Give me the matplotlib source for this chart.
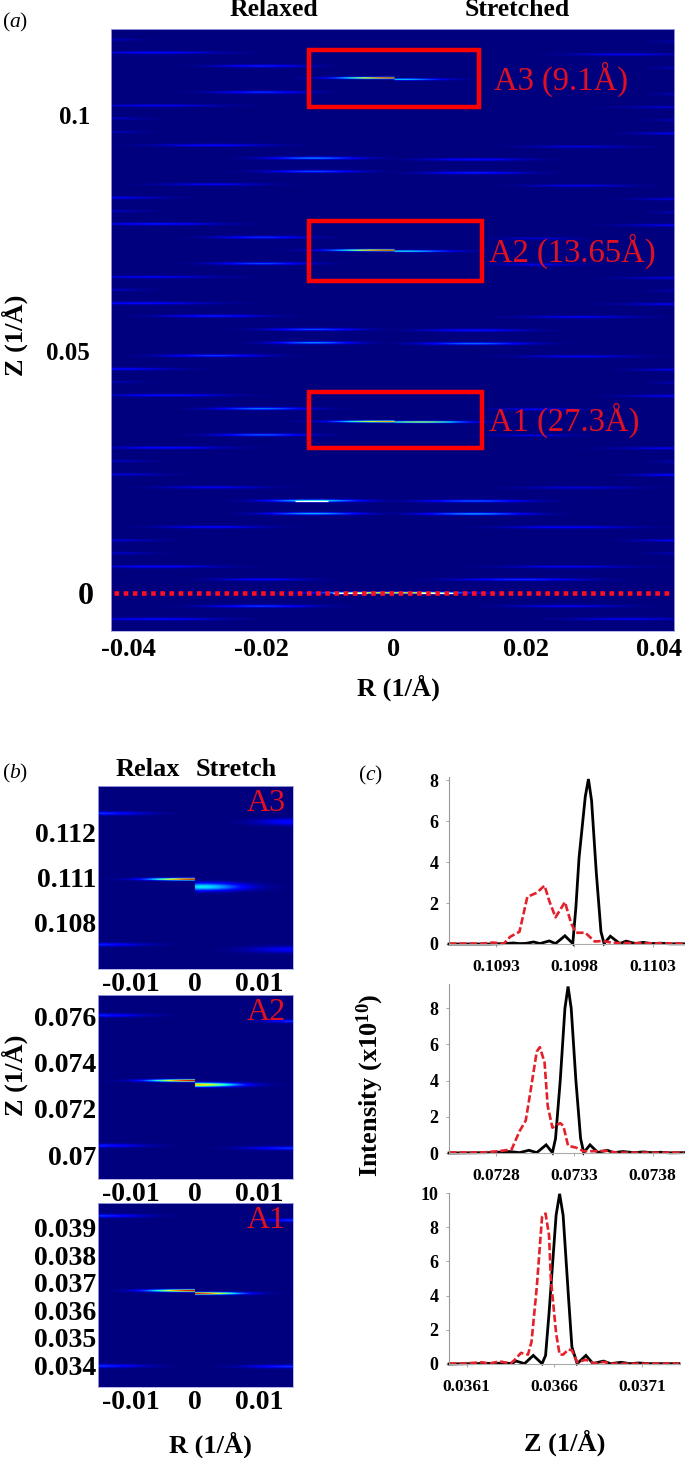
import numpy as np
import matplotlib
matplotlib.use("Agg")
import matplotlib.pyplot as plt
from matplotlib.patches import Rectangle
from matplotlib.transforms import ScaledTranslation

plt.rcParams['font.family'] = ['Liberation Serif', 'DejaVu Serif']
plt.rcParams['mathtext.fontset'] = 'custom'
plt.rcParams['mathtext.rm'] = 'Liberation Serif'
plt.rcParams['mathtext.it'] = 'Liberation Serif:italic'
plt.rcParams['mathtext.bf'] = 'Liberation Serif:bold'

W, H = 685, 1458

# ---------- panel (a) : streak rows ----------
row_z = [-.0055, -.0028, .0028, .0055, .0083, .0110, .0138, .0166, .0193, .0221,
         .0248, .0276, .0304, .0331, .0386, .0414, .0442, .0469, .0497, .0524,
         .0552, .0580, .0607, .0635, .0662, .0690, .0745, .0773, .0800, .0828,
         .0856, .0883, .0911, .0938, .0966, .0994, .1021, .1049, .1104, .1132, .1159]
left_r = [-.0358, -.0200, -.0200, -.0358, -.0425, -.0425, -.0273, -.0121, -.0121, -.0273,
          -.0425, -.0425, -.0341, -.0200, -.0200, -.0341, -.0425, -.0425, -.0273, -.0121,
          -.0121, -.0273, -.0386, -.0425, -.0369, -.0200, -.0200, -.0358, -.0425, -.0425,
          -.0273, -.0121, -.0121, -.0273, -.0425, -.0425, -.0358, -.0200, -.0200, -.0358, -.0425]
left_s = [.0065, .0055, .0048, .0065, .0042, .0048, .0054, .0048, .0048, .0054,
          .0054, .0042, .0060, .0048, .0048, .0060, .0030, .0060, .0054, .0042,
          .0048, .0054, .0072, .0036, .0072, .0048, .0048, .0066, .0036, .0054,
          .0054, .0048, .0048, .0060, .0036, .0036, .0066, .0048, .0048, .0066, .0030]
left_a = [.14, .19, .13, .13, .07, .08, .13, .32, .40, .11,
          .09, .06, .14, .23, .26, .15, .05, .14, .19, .28,
          .21, .16, .14, .06, .11, .21, .18, .15, .06, .11,
          .11, .21, .27, .13, .05, .06, .11, .18, .16, .13, .05]
right_r = [.0350, .0260, .0190, .0262, .0425, .0425, .0262, .0121, .0121, .0279,
           .0425, .0425, .0425, .0210, .0217, .0425, .0425, .0425, .0279, .0121,
           .0121, .0279, .0425, .0425, .0425, .0217, .0217, .0425, .0425, .0425,
           .0279, .0121, .0121, .0279, .0425, .0425, .0425, .0425, .0425, .0346, .0425]
right_s = [.0060, .0060, .0066, .0066, .0030, .0042, .0066, .0054, .0054, .0060,
           .0042, .0024, .0060, .0042, .0042, .0054, .0024, .0042, .0060, .0054,
           .0054, .0060, .0054, .0024, .0054, .0042, .0042, .0054, .0024, .0042,
           .0054, .0054, .0054, .0054, .0042, .0024, .0054, .0024, .0024, .0054, .0024]
right_a = [.11, .11, .18, .11, .05, .11, .13, .30, .23, .09,
           .14, .05, .11, .09, .11, .11, .05, .10, .11, .25,
           .15, .11, .11, .05, .09, .10, .07, .11, .05, .09,
           .10, .16, .14, .09, .11, .05, .08, .05, .05, .11, .04]

# central streaks of panel (a): z, side, sigma, amplitude
centre_z = [.1079, .1076, .0718, .0716, .0359, .0358, .0000, .0000]
centre_side = [-1, 1, -1, 1, -1, 1, -1, 1]
centre_r = [0, .0010, 0, .0010, -.0010, .0040, -.0020, .0020]
centre_s = [.0052, .0042, .0056, .0050, .0050, .0046, .0058, .0056]
centre_a = [1.0, .36, 1.0, .42, .78, .62, .70, .70]

# white cores seen in (a)
core_z = [.0193, .0000, .0000]
core_r0 = [-.0149, -.0092, .0040]
core_r1 = [-.0099, -.0040, .0090]

# red boxes of (a)
box_r0 = [-.0128, -.0128, -.0128]
box_r1 = [.0128, .0133, .0133]
box_z0 = [.1017, .0653, .0303]
box_z1 = [.1136, .0778, .0420]
box_text = ['A3 (9.1Å)', 'A2 (13.65Å)', 'A1 (27.3Å)']
box_text_dx = [.0023, .0010, .0010]
a_xticks = [-.04, -.02, 0, .02, .04]
a_xlabels = ['-0.04', '-0.02', '0', '0.02', '0.04']
a_yticks = [0, .0506, .1]
a_ylabels = ['0', '0.05', '0.1']

# ---------- panel (b) ----------
b_names = ['A3', 'A2', 'A1']
b_ylim = [(.10594, .11409), (.06896, .07694), (.0332, .0399)]
b_yticks = [[.108, .110, .112], [.070, .072, .074, .076], [.034, .035, .036, .037, .038, .039]]
b_ylabels = [['0.108', '0.111', '0.112'], ['0.07', '0.072', '0.074', '0.076'],
             ['0.034', '0.035', '0.036', '0.037', '0.038', '0.039']]
b_xticks = [-.01, 0, .01]
b_xlabels = ['-0.01', '0', '0.01']
# z, r centre, sigma r, sigma z, amplitude, side
b_z = [[.10994, .1096, .11288, .1125, .10702, .1068],
       [.07323, .07305, .07607, .07581, .0704, .07029],
       [.03671, .03661, .03944, .03928, .03396, .03394]]
b_r = [[0, .001, -.0153, .0153, -.0153, .0153],
       [0, .0, -.0153, .0153, -.0153, .0153],
       [0, .0, -.0153, .0153, -.0153, .0153]]
b_sr = [[.0045, .0045, .0050, .0040, .0050, .0050],
        [.0045, .0045, .0050, .0030, .0050, .0050],
        [.0045, .0045, .0050, .0030, .0050, .0050]]
b_sz = [[.000035, .00012, .00005, .00010, .00005, .00010],
        [.000035, .00006, .00005, .00004, .00005, .00005],
        [.000030, .00003, .00004, .00004, .00004, .00004]]
b_a = [[1.0, .36, .18, .13, .16, .11],
       [1.0, .72, .16, .18, .16, .18],
       [1.0, .95, .18, .18, .18, .18]]
b_side = [[-1, 1, 0, 0, 0, 0]] * 3

# ---------- panel (c) ----------
c_xticks = [[.1093, .1098, .1103], [.0728, .0733, .0738], [.0361, .0366, .0371]]
c_xlabels = [['0.1093', '0.1098', '0.1103'], ['0.0728', '0.0733', '0.0738'], ['0.0361', '0.0366', '0.0371']]
c_xlim = [(.10900, .11050), (.07250, .07400), (.03600, .03731)]
c_ylim = [8.15, 9.34, 10.0]
c_yticks = [[0, 2, 4, 6, 8], [0, 2, 4, 6, 8], [0, 2, 4, 6, 8, 10]]

black_z3 = [.10900, .10926, .10936, .10941, .10945, .10949, .10954, .10958, .10964, .10968, .10974, .10979,
            .10981, .10983, .10987, .10989, .10991, .10994, .10997, .10999, .11003, .11009, .11013, .11019,
            .11024, .11029, .11035, .11041, .11050]
black_i3 = [0, 0, .02, .05, .02, .03, .10, .02, .15, .02, .40, .02,
            1.8, 4.2, 7.2, 8.05, 7.0, 3.5, .6, .02, .38, .02, .14, .02,
            .08, .02, .04, .01, .01]
red_z3 = [.10900, .10921, .10928, .10935, .10939, .10945, .10950, .10956, .10961, .10964, .10968, .10974,
          .10978, .10981, .10987, .10993, .10998, .11005, .11013, .11022, .11050]
red_i3 = [.02, .02, .07, .02, .35, .60, 2.3, 2.5, 2.85, 2.1, 1.3, 2.05,
          1.0, .55, .55, .12, .15, .05, .05, .04, .02]

black_z2 = [.07250, .07276, .07289, .07295, .07301, .07306, .07312, .07316, .07318, .07321, .07324, .07326,
            .07328, .07331, .07334, .07336, .07340, .07345, .07351, .07355, .07361, .07368, .07374, .07379,
            .07385, .07391, .07400]
black_i2 = [0, .02, .08, .02, .15, .02, .45, .02, .8, 4.0, 8.0, 9.2,
            8.0, 4.0, .8, .02, .45, .03, .15, .02, .08, .02, .06, .02,
            .04, .01, .02]
red_z2 = [.07250, .07271, .07282, .07290, .07295, .07299, .07302, .07306, .07308, .07311, .07313, .07316,
          .07321, .07323, .07326, .07331, .07336, .07344, .07351, .07357, .07400]
red_i2 = [.03, .03, .10, .20, 1.2, 1.8, 3.4, 5.6, 5.85, 5.0, 2.6, 1.4,
          1.65, 1.5, .4, .3, .1, .1, .12, .02, .02]

black_z1 = [.03600, .03619, .03633, .03636, .03638, .03643, .03648, .03653, .03655, .03657, .03661, .03663,
            .03665, .03668, .03670, .03673, .03678, .03682, .03688, .03692, .03698, .03703, .03708, .03714, .03731]
black_i1 = [0, .03, .05, .02, .18, .02, .50, .02, .5, 3.0, 8.7, 9.95,
            8.7, 4.0, 1.0, .02, .50, .03, .17, .02, .10, .02, .06, .02, .02]
red_z1 = [.03600, .03608, .03619, .03623, .03629, .03635, .03637, .03641, .03645, .03647, .03650, .03653,
          .03655, .03657, .03658, .03661, .03663, .03665, .03668, .03670, .03673, .03678, .03683, .03688, .03693, .03731]
red_i1 = [.03, .03, .10, .03, .15, .03, .20, .65, .55, 1.3, 4.5, 8.6,
          8.8, 7.5, 5.0, 1.8, .55, .55, .85, .80, .10, .25, .03, .12, .02, .02]

c_black = [(black_z3, black_i3), (black_z2, black_i2), (black_z1, black_i1)]
c_red = [(red_z3, red_i3), (red_z2, red_i2), (red_z1, red_i1)]

STRETCH = 1 - .0033   # right half of (a) sits slightly lower


def axpx(fig, x0, y0, x1, y1):
    return fig.add_axes([x0 / W, 1 - y1 / H, (x1 - x0) / W, (y1 - y0) / H])


def txt(fig, x, y, s, **kw):
    kw.setdefault('ha', 'center')
    kw.setdefault('va', 'center')
    fig.text(x / W, 1 - y / H, s, **kw)


def add_streak(img, R, Z, z, r, sr, sz, amp, side=0):
    g = amp * np.exp(-(R - r) ** 2 / (2 * sr ** 2) - (Z - z) ** 2 / (2 * sz ** 2))
    if side < 0:
        g = np.where(R <= 0, g, 0)
    if side > 0:
        g = np.where(R > 0, g, 0)
    return np.maximum(img, g)


def grid(xlim, ylim, nx, ny):
    rr = np.linspace(xlim[0], xlim[1], nx)
    zz = np.linspace(ylim[1], ylim[0], ny)
    return np.meshgrid(rr, zz)


fig = plt.figure(figsize=(W / 100, H / 100), dpi=100, facecolor='white')
EDGE = '#a9a9e6'

# ---------- (a) ----------
ax = axpx(fig, 111, 29, 674, 631)
xl, yl = (-.0427, .0423), (-.00795, .1181)
R, Z = grid(xl, yl, 1126, 1204)
img = np.zeros_like(R)
for z, r, s, a in zip(row_z, left_r, left_s, left_a):
    img = add_streak(img, R, Z, z, r, s, .00017, a, -1)
for z, r, s, a in zip(row_z, right_r, right_s, right_a):
    img = add_streak(img, R, Z, z * STRETCH, r, s, .00017, a, 1)
for z, sd, r, s, a in zip(centre_z, centre_side, centre_r, centre_s, centre_a):
    img = add_streak(img, R, Z, z, r, s, .00013, a, sd)
ax.imshow(img, extent=[*xl, *yl], cmap='jet', vmin=0, vmax=1, aspect='auto')
ax.set_xlim(xl)
ax.set_ylim(yl)
for z, r0, r1 in zip(core_z, core_r0, core_r1):
    ax.plot([r0, r1], [z, z], color='white', lw=.9, solid_capstyle='butt')
ax.plot([-.0423, .0415], [0, 0], color='#ff1020', lw=3.3, ls=(0, (1, 1)), dash_capstyle='butt')
for r0, r1, z0, z1, t, dx in zip(box_r0, box_r1, box_z0, box_z1, box_text, box_text_dx):
    ax.add_patch(Rectangle((r0, z0), r1 - r0, z1 - z0, fill=False, ec='#ff0000', lw=3.2, joinstyle='miter'))
    ax.text(r1 + dx, (z0 + z1) / 2, t, color='#e01020', fontsize=23.5, va='center', ha='left')
ax.set_xticks(a_xticks, a_xlabels, fontsize=19, fontweight='bold')
ax.set_yticks(a_yticks, a_ylabels, fontsize=18, fontweight='bold')
ax.tick_params(length=0, pad=5)
ax.tick_params(axis='y', pad=15)
zero_label = ax.get_yticklabels()[0]
zero_label.set_fontsize(23)
zero_label.set_transform(zero_label.get_transform() + ScaledTranslation(.04, 0, fig.dpi_scale_trans))
for s in ax.spines.values():
    s.set_color(EDGE)
    s.set_linewidth(.6)

txt(fig, 274, 10, 'Relaxed', fontsize=18.5, fontweight='bold')
txt(fig, 517, 10, 'Stretched', fontsize=18.5, fontweight='bold')
txt(fig, 15, 335, 'Z (1/Å)', fontsize=19, fontweight='bold', rotation=90)
txt(fig, 398, 688, 'R (1/Å)', fontsize=19, fontweight='bold')
txt(fig, 15, 22, r'($\mathit{a}$)', fontsize=15.5)

# ---------- (b) ----------
b_boxes = [(98, 786, 293, 969), (98, 995, 293, 1179), (98, 1203, 293, 1387)]
b_xlim = (-.01516, .0153)
for i, (x0, y0, x1, y1) in enumerate(b_boxes):
    ax = axpx(fig, x0, y0, x1, y1)
    R, Z = grid(b_xlim, b_ylim[i], (x1 - x0) * 2, (y1 - y0) * 2)
    img = np.zeros_like(R)
    for z, r, sr, sz, a, sd in zip(b_z[i], b_r[i], b_sr[i], b_sz[i], b_a[i], b_side[i]):
        img = add_streak(img, R, Z, z, r, sr, sz, a, sd)
    ax.imshow(img, extent=[*b_xlim, *b_ylim[i]], cmap='jet', vmin=0, vmax=1, aspect='auto')
    ax.set_xlim(b_xlim)
    ax.set_ylim(b_ylim[i])
    ax.set_xticks(b_xticks, b_xlabels, fontsize=20, fontweight='bold')
    ax.set_yticks(b_yticks[i], b_ylabels[i], fontsize=20, fontweight='bold')
    ax.tick_params(length=0, pad=2)
    ax.tick_params(axis='y', pad=1.5)
    ax.text(.965, .985, b_names[i], transform=ax.transAxes, ha='right', va='top', color='#e01020', fontsize=23)
    for s in ax.spines.values():
        s.set_color(EDGE)
        s.set_linewidth(.6)

txt(fig, 148, 769, 'Relax', fontsize=19, fontweight='bold')
txt(fig, 236, 769, 'Stretch', fontsize=19, fontweight='bold')
txt(fig, 15, 1075, 'Z (1/Å)', fontsize=19, fontweight='bold', rotation=90)
txt(fig, 210, 1445, 'R (1/Å)', fontsize=19, fontweight='bold')
txt(fig, 15, 773, r'($\mathit{b}$)', fontsize=15.5)

# ---------- (c) ----------
c_boxes = [(449, 777, 684, 944), (449, 984, 684, 1153), (449, 1193, 679, 1364)]
for i, (x0, y0, x1, y1) in enumerate(c_boxes):
    ax = axpx(fig, x0, y0, x1, y1)
    ax.plot(*c_black[i], color='black', lw=2.0, clip_on=False, solid_joinstyle='miter')
    ax.plot(*c_red[i], color='#e4202a', lw=1.9, ls=(0, (2.8, 1.1)), clip_on=False)
    ax.set_xlim(c_xlim[i])
    ax.set_ylim(0, c_ylim[i])
    ax.set_xticks(c_xticks[i], c_xlabels[i], fontsize=12.5, fontweight='bold')
    ax.set_yticks(c_yticks[i], [str(v) for v in c_yticks[i]], fontsize=13, fontweight='bold')
    ax.tick_params(axis='x', length=2, width=.6, color='#999999', pad=9)
    ax.tick_params(axis='y', length=2, width=.6, color='#999999', pad=5.5)
    ax.spines['top'].set_visible(False)
    ax.spines['right'].set_visible(False)
    ax.spines['left'].set_color('#999999')
    ax.spines['bottom'].set_color('#aaaaaa')
    ax.patch.set_alpha(0)

txt(fig, 370, 1085, r'Intensity (x10$^{\mathbf{10}}$)', fontsize=19, fontweight='bold', rotation=90)
txt(fig, 565, 1443, 'Z (1/Å)', fontsize=19, fontweight='bold')
txt(fig, 370, 775, r'($\mathit{c}$)', fontsize=15.5)

fig.savefig('out.png', dpi=100)
